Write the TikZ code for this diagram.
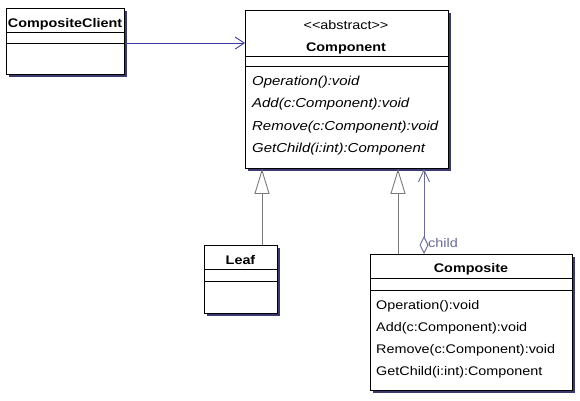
\documentclass[tikz,border=0pt]{standalone}
\usepackage{fontspec}
\setmainfont[FakeStretch=1.15]{Liberation Sans}
\usetikzlibrary{arrows.meta,shadows}
\definecolor{shade}{HTML}{3A3A70}
\definecolor{assocblue}{HTML}{3C3CA8}
\definecolor{childc}{HTML}{6A6A9A}
\definecolor{genc}{HTML}{7A7A7A}
\begin{document}
\begin{tikzpicture}[x=1pt,y=-1pt,
  umlbox/.style={draw=black, line width=0.9pt, fill=white, anchor=north west, inner sep=0pt,
    drop shadow={shadow xshift=2.5pt, shadow yshift=-2.5pt, fill=shade, opacity=1}},
  sep/.style={draw=black, line width=0.9pt},
  txt/.style={font=\fontsize{12.5}{14}\selectfont, inner sep=0pt},
  cname/.style={txt, font=\fontsize{12.5}{14}\selectfont\bfseries, anchor=base},
  op/.style={txt, anchor=base west},
  iop/.style={txt, font=\fontsize{13}{14}\selectfont\itshape, anchor=base west},
  gen/.style={draw=genc, line width=0.9pt, -{Triangle[open, length=25pt, width=15pt, fill=white]}},
  assoc/.style={draw=assocblue, line width=0.9pt, -{Straight Barb[length=9pt, width=12pt]}},
  child/.style={draw=childc, line width=0.9pt, {Diamond[open, length=18pt, width=9pt, fill=white]}-{Straight Barb[length=12pt, width=11pt]}}
]
\useasboundingbox (0,0) rectangle (580,400);
\fill[white] (0,0) rectangle (580,400);

% CompositeClient
\node[umlbox, minimum width=118pt, minimum height=66pt] (client) at (6,8) {};
\draw[sep] (client.west |- 0,32) -- (client.east |- 0,32);
\draw[sep] (client.west |- 0,43) -- (client.east |- 0,43);
\node[cname] (clientname) at (65,27) {CompositeClient};

% Component
\node[umlbox, minimum width=203pt, minimum height=158pt] (comp) at (245,10) {};
\draw[sep] (comp.west |- 0,56) -- (comp.east |- 0,56);
\draw[sep] (comp.west |- 0,66) -- (comp.east |- 0,66);
\node[txt, anchor=base] (stereo) at (346,29) {{<}{<}abstract{>}{>}};
\node[cname] (compname) at (346,51) {Component};
\node[iop] (cop1) at (252,85) {Operation():void};
\node[iop] (cop2) at (252,107) {Add(c:Component):void};
\node[iop] (cop3) at (252,130) {Remove(c:Component):void};
\node[iop] (cop4) at (252,152) {GetChild(i:int):Component};

% Leaf
\node[umlbox, minimum width=73pt, minimum height=68pt] (leaf) at (204,245) {};
\draw[sep] (leaf.west |- 0,269) -- (leaf.east |- 0,269);
\draw[sep] (leaf.west |- 0,281) -- (leaf.east |- 0,281);
\node[cname] (leafname) at (240.5,264) {Leaf};

% Composite
\node[umlbox, minimum width=202pt, minimum height=136pt] (composite) at (370,254) {};
\draw[sep] (composite.west |- 0,278) -- (composite.east |- 0,278);
\draw[sep] (composite.west |- 0,290) -- (composite.east |- 0,290);
\node[cname] (compositename) at (471,272) {Composite};
\node[op] (op1) at (376,309) {Operation():void};
\node[op] (op2) at (376,331) {Add(c:Component):void};
\node[op] (op3) at (376,353) {Remove(c:Component):void};
\node[op] (op4) at (376,375) {GetChild(i:int):Component};

% connectors
\draw[assoc] (client.east |- 0,43) -- (comp.west |- 0,43);
\draw[gen] (leaf.north -| 262,0) -- (comp.south -| 262,0);
\draw[gen] (composite.north -| 398,0) -- (comp.south -| 398,0);
\draw[child] (composite.north -| 424,0) -- (comp.south -| 424,0);
\node[txt, text=childc, anchor=base west] (childlbl) at (428,247) {child};
\end{tikzpicture}
\end{document}
